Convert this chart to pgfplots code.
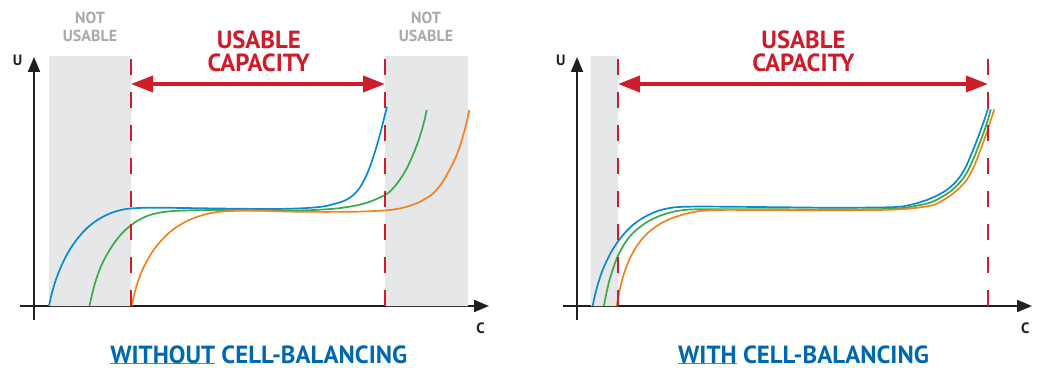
\documentclass[border=0pt]{standalone}
\usepackage{fontspec}
\setmainfont{PT Sans}
\usepackage{pgfplots}
\pgfplotsset{compat=1.18}
\usetikzlibrary{arrows.meta}

\definecolor{axisblack}{RGB}{35,31,32}
\definecolor{cellblue}{RGB}{10,138,208}
\definecolor{cellgreen}{RGB}{58,170,73}
\definecolor{cellorange}{RGB}{243,130,32}
\definecolor{capred}{RGB}{206,28,42}
\definecolor{titleblue}{RGB}{0,103,177}
\definecolor{zonegray}{RGB}{230,231,232}
\definecolor{labelgray}{RGB}{167,169,172}

\newcommand\ul[1]{\setbox0\hbox{#1}\rlap{\color{titleblue!75}\rule[-1.3pt]{\wd0}{1pt}}\box0{}}

\pgfplotsset{
  panel/.style={
    x=1pt, y=1pt,
    xmin=-14, xmax=455, ymin=-14, ymax=249,
    axis lines=middle,
    axis line style={line width=2pt, draw=axisblack, -{Triangle[length=15pt,width=12pt]}},
    xtick=\empty, ytick=\empty,
    clip=false,
  },
}
\tikzset{
  cellline/.style={line width=1.7pt, smooth},
  limitline/.style={line width=2.6pt, capred, dash pattern=on 16pt off 17pt},
  zonefill/.style={fill=zonegray, draw=none},
  capspan/.style={line width=3.8pt, capred, {Triangle[length=22pt,width=16pt]}-{Triangle[length=22pt,width=16pt]}},
  bigred/.style={font=\fontsize{24.8}{25}\selectfont\bfseries, text=capred, anchor=base, inner sep=0pt},
  smallgray/.style={font=\fontsize{16}{17}\selectfont\bfseries, text=labelgray, anchor=base, inner sep=0pt},
  axlabel/.style={font=\fontsize{15}{16}\selectfont\bfseries, text=axisblack, anchor=base, inner sep=0pt},
  paneltitle/.style={font=\fontsize{24.8}{25}\selectfont\bfseries, text=titleblue, anchor=base, inner sep=0pt},
}

\begin{document}
\begin{tikzpicture}
% ---- without cell-balancing ----
\begin{axis}[panel]
  \path (axis cs:-34,-61) rectangle (axis cs:1004,306);
  \addplot[zonefill] coordinates {(15,0) (15,250) (97,250) (97,0)} \closedcycle;
  \addplot[zonefill] coordinates {(351,0) (351,250) (434,250) (434,0)} \closedcycle;

  \addplot[cellline, cellblue, no marks] coordinates {
    (15,0) (16.5,7) (18.5,15) (21,23.5) (24,32) (28,41.5) (32.7,51) (38.5,60.5)
    (46,70.5) (54,78.8) (62.7,85.5) (71,90.3) (79.3,93.8) (88,96.2) (96,97.5)
    (110,98.2) (125,98.3) (150,98) (200,97.3) (240,97) (265,97.6) (280,98.5)
    (292,100) (306,103.7) (313,106.5) (319.3,111) (324.5,116.5) (329.3,124.3)
    (333.7,133.5) (337.7,144.3) (341.2,155) (344.3,165.5) (347,175.5) (349.3,184.5)
    (351.3,192.5) (353,199.3)
  };
  \addplot[cellline, cellgreen, no marks] coordinates {
    (55.5,0) (57,7) (59,15.5) (61.2,23.5) (64,32) (68,42) (72.7,51) (78.5,60.5)
    (86,70.5) (92.5,77) (99.3,82.5) (107,87.2) (116,91) (127,93.6) (139.3,95)
    (162.7,95.8) (200,96) (240,95.5) (265,95.6) (280,96) (295,96.9) (306,97.9)
    (322,100.5) (336,104.3) (351,111) (357,115.5) (362.7,122) (368,129.5)
    (372.7,137.5) (377,146.5) (381,156) (384.5,165.5) (387.7,175.5) (390.3,185) (392.7,196)
  };
  \addplot[cellline, cellorange, no marks] coordinates {
    (97.7,0) (99.2,7) (101,14.5) (103.3,22.5) (106.3,31) (109.3,38) (112.7,44.5)
    (117,52) (121.5,58.5) (126,64) (134,72.3) (142.7,79) (152,84.5) (162.7,89)
    (174,92.3) (186,94.3) (200,95.1) (230,95.2) (256,94.4) (290,94.1) (322.7,94.3)
    (340,95) (356,96) (370,98.5) (382.7,102.7) (391,107) (399.3,112.7) (406.5,121)
    (412.7,131) (418,141) (422.7,151) (426.3,161) (429.3,171) (432.5,183) (435.3,196)
  };

  \addplot[limitline] coordinates {(97,0) (97,250)};
  \addplot[limitline] coordinates {(351,0) (351,250)};
  \addplot[capspan] coordinates {(97,222) (351,222)};

  \node[bigred] at (axis cs:224.8,257.7) {USABLE};
  \node[bigred] at (axis cs:224.8,234.3) {CAPACITY};
  \node[smallgray] at (axis cs:56,282) {NOT};
  \node[smallgray] at (axis cs:56,264.3) {USABLE};
  \node[smallgray] at (axis cs:392,282) {NOT};
  \node[smallgray] at (axis cs:392,264.3) {USABLE};
  \node[axlabel] at (axis cs:-16.3,240) {U};
  \node[axlabel] at (axis cs:446.5,-27.3) {C};
  \node[paneltitle] at (axis cs:224.8,-57) {\ul{WITHOUT} CELL-BALANCING};
\end{axis}

% ---- with cell-balancing ----
\begin{axis}[panel, at={(543pt,0pt)}]
  \addplot[zonefill] coordinates {(14,0) (14,250) (41,250) (41,0)} \closedcycle;

  \addplot[cellline, cellblue, no marks] coordinates {
    (15.7,0) (17.2,7.5) (19.2,15.5) (21.7,24.5) (24.7,33.5) (28.7,43) (33.4,52.5)
    (39.2,62) (46.7,71.8) (54.7,80) (63.4,86.5) (71.7,91.2) (80,94.8) (88.7,97.2)
    (96.7,98.6) (110,99.3) (136,99.4) (200,98.8) (250,98.3) (300,98.5) (323,99.3)
    (337,102) (349.7,106) (360,110.5) (369.7,116) (377,122.3) (383,129.3)
    (388.5,138.5) (393,148.5) (397.5,159.5) (401.3,169.5) (405,179.5) (408,188) (411.7,199.3)
  };
  \addplot[cellline, cellgreen, no marks] coordinates {
    (27,0) (28.4,8) (30.3,17) (32.5,26) (35.3,35) (38.2,43.5) (41.3,51) (45.5,59)
    (50,66) (55,72) (61,77.5) (69.7,83.8) (79.5,88.8) (89.7,92.5) (100,95) (113,96.5)
    (136.3,96.8) (200,96.7) (250,96.5) (300,96.8) (323,97.7) (338,100) (353,103.3)
    (363.5,108.3) (373,114.3) (380,120.5) (386.3,127.7) (391.5,136.5) (396.3,147)
    (400.8,158) (404.7,168) (408.2,178) (411.3,187.5) (413.7,196.7)
  };
  \addplot[cellline, cellorange, no marks] coordinates {
    (39.7,0) (41.2,8.5) (43,17.5) (45,26) (47.5,34) (50.3,41.5) (53.3,48.5) (57.3,56)
    (61.5,62.5) (66.3,68.5) (72.5,74.5) (79,79.5) (86,83.8) (94,87.5) (103,90.6)
    (113,93.2) (123,95) (139.7,96) (160,96.1) (200,96) (250,95.8) (300,96) (323,96.7)
    (340,98.2) (356.3,101) (366.5,106) (376.3,112.7) (383.5,119) (389.7,126)
    (395,135.5) (399.7,146) (404,157.5) (408,168.5) (411.2,178) (414,186.5) (417.3,196.7)
  };

  \addplot[limitline] coordinates {(41,0) (41,250)};
  \addplot[limitline] coordinates {(411,0) (411,250)};
  \addplot[capspan] coordinates {(41,222) (411,222)};

  \node[bigred] at (axis cs:226.5,257.7) {USABLE};
  \node[bigred] at (axis cs:226.5,234.3) {CAPACITY};
  \node[axlabel] at (axis cs:-16.2,240) {U};
  \node[axlabel] at (axis cs:448.3,-27.3) {C};
  \node[paneltitle] at (axis cs:226.5,-57) {\ul{WITH} CELL-BALANCING};
\end{axis}
\end{tikzpicture}
\end{document}
